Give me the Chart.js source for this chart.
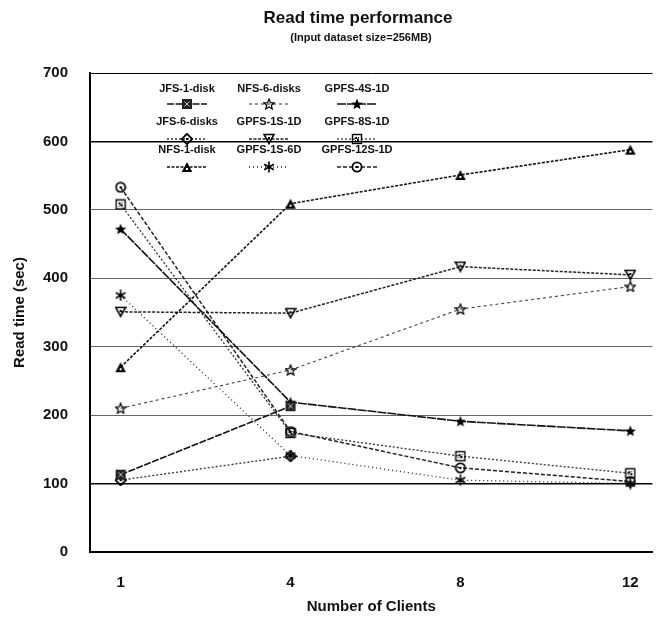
<!DOCTYPE html>
<html>
<head>
<meta charset="utf-8">
<script src="https://cdn.jsdelivr.net/npm/chart.js@4.4.1/dist/chart.umd.min.js"></script>
<style>
  body { margin: 0; background: #fff; }
  #wrap { width: 661px; height: 627px; }
</style>
</head>
<body>
<div id="wrap"><canvas id="chart" width="661" height="627"></canvas></div>
<script>
// x categories and y ticks
const clients = ['1', '4', '8', '12'];
const yTicks = [0, 100, 200, 300, 400, 500, 600, 700];

// read times (sec) per series, one value per client count
const jfs1disk = [113, 213, null, null];
const jfs6disks = [105, 140, null, null];
const nfs1disk = [270, 509, 551, 588];
const nfs6disks = [210, 266, 355, 388];
const gpfs1s1d = [351, 349, 417, 405];
const gpfs1s6d = [375, 141, 105, 100];
const gpfs4s1d = [472, 219, 191, 177];
const gpfs8s1d = [508, 174, 140, 115];
const gpfs12s1d = [533, 176, 123, 103];

const FONT = '"Liberation Sans", Arial, sans-serif';

function starPath(g, cx, cy, ro, ri) {
    g.beginPath();
    for (let i = 0; i < 10; i++) {
        const r = i % 2 ? ri : ro;
        const a = -Math.PI / 2 + i * Math.PI / 5;
        const x = cx + r * Math.cos(a), y = cy + r * Math.sin(a);
        i ? g.lineTo(x, y) : g.moveTo(x, y);
    }
    g.closePath();
}

// small canvases used as point styles
function marker(kind) {
    const c = document.createElement('canvas');
    c.width = 12; c.height = 12;
    const g = c.getContext('2d');
    g.strokeStyle = '#000';
    g.fillStyle = '#000';
    g.lineWidth = 1.4;
    switch (kind) {
        case 'boxX':
            g.fillStyle = '#222';
            g.fillRect(1, 1, 10, 10);
            g.strokeStyle = '#bbb';
            g.lineWidth = 1;
            g.beginPath();
            g.moveTo(3.5, 3.5); g.lineTo(8.5, 8.5);
            g.moveTo(8.5, 3.5); g.lineTo(3.5, 8.5);
            g.stroke();
            break;
        case 'boxDot':
            g.strokeRect(1.5, 1.5, 9, 9);
            g.fillRect(4, 4, 2, 2); g.fillRect(6, 6, 2, 2);
            g.fillRect(4, 7, 1, 1); g.fillRect(7, 4, 1, 1);
            break;
        case 'starOpen':
            starPath(g, 6, 6.5, 5.5, 2.4);
            g.lineWidth = 1.2;
            g.stroke();
            break;
        case 'starFill':
            starPath(g, 6, 6.5, 6, 2.6);
            g.fill();
            break;
        case 'diamond':
            g.beginPath();
            g.moveTo(6, 0.8); g.lineTo(11.2, 6); g.lineTo(6, 11.2); g.lineTo(0.8, 6);
            g.closePath();
            g.lineWidth = 1.8;
            g.stroke();
            g.fillRect(5, 5, 2, 2);
            break;
        case 'triDown':
            g.beginPath();
            g.moveTo(1, 1.5); g.lineTo(11, 1.5); g.lineTo(6, 10.5);
            g.closePath();
            g.lineWidth = 1.6;
            g.stroke();
            g.fillRect(5, 4, 2, 2);
            break;
        case 'triUp':
            g.beginPath();
            g.moveTo(6, 1); g.lineTo(11.3, 11); g.lineTo(0.7, 11);
            g.closePath();
            g.fill();
            g.fillStyle = '#fff';
            g.fillRect(5, 7, 2, 2);
            break;
        case 'aster':
            g.lineWidth = 1.6;
            g.beginPath();
            g.moveTo(6, 0.5); g.lineTo(6, 11.5);
            g.moveTo(1.2, 3.2); g.lineTo(10.8, 8.8);
            g.moveTo(10.8, 3.2); g.lineTo(1.2, 8.8);
            g.stroke();
            break;
        case 'circDot':
            g.beginPath();
            g.arc(6, 6, 4.6, 0, Math.PI * 2);
            g.lineWidth = 1.8;
            g.stroke();
            g.fillRect(5, 5, 2, 2);
            break;
    }
    return c;
}

function series(label, values, kind, dash, width, color) {
    return {
        label: label,
        data: values.map((v, i) => ({ x: i, y: v })),
        borderColor: color,
        borderWidth: width,
        borderDash: dash,
        pointStyle: marker(kind),
        pointRadius: 6,
        pointHoverRadius: 6,
        fill: false,
        tension: 0,
        spanGaps: false
    };
}

const datasets = [
    series('JFS-1-disk', jfs1disk, 'boxX', [7, 1.5], 1.6, '#111'),
    series('JFS-6-disks', jfs6disks, 'diamond', [2, 2], 1.3, '#333'),
    series('NFS-1-disk', nfs1disk, 'triUp', [3, 1.5], 1.6, '#111'),
    series('NFS-6-disks', nfs6disks, 'starOpen', [3, 3], 1.1, '#444'),
    series('GPFS-1S-1D', gpfs1s1d, 'triDown', [3, 1.5], 1.5, '#222'),
    series('GPFS-1S-6D', gpfs1s6d, 'aster', [1, 3], 1.3, '#222'),
    series('GPFS-4S-1D', gpfs4s1d, 'starFill', [9, 1], 1.6, '#111'),
    series('GPFS-8S-1D', gpfs8s1d, 'boxDot', [2, 2], 1.3, '#333'),
    series('GPFS-12S-1D', gpfs12s1d, 'circDot', [4, 2], 1.5, '#222')
];

// header text drawn over the plot
const titlePlugin = {
    id: 'titles',
    afterDraw(chart) {
        const ctx = chart.ctx;
        ctx.save();
        ctx.fillStyle = '#111';
        ctx.textAlign = 'center';
        ctx.textBaseline = 'middle';
        ctx.font = 'bold 17px ' + FONT;
        ctx.fillText('Read time performance', 358, 18);
        ctx.font = 'bold 11px ' + FONT;
        ctx.fillText('(Input dataset size=256MB)', 361, 38);
        ctx.restore();
    }
};

// 3x3 legend: label on top, line sample with marker below
const legendCols = [187, 269, 357];
const legendLabelY = [89, 122, 150];
const legendSampleY = [104, 139, 167];

const legendPlugin = {
    id: 'gridLegend',
    afterDraw(chart) {
        const ctx = chart.ctx;
        ctx.save();
        chart.data.datasets.forEach((ds, i) => {
            const cx = legendCols[Math.floor(i / 3)];
            const row = i % 3;
            ctx.fillStyle = '#111';
            ctx.font = 'bold 11px ' + FONT;
            ctx.textAlign = 'center';
            ctx.textBaseline = 'middle';
            ctx.fillText(ds.label, cx, legendLabelY[row]);
            const sy = legendSampleY[row];
            ctx.strokeStyle = ds.borderColor;
            ctx.lineWidth = ds.borderWidth;
            ctx.setLineDash(ds.borderDash);
            ctx.beginPath();
            ctx.moveTo(cx - 20, sy);
            ctx.lineTo(cx + 20, sy);
            ctx.stroke();
            ctx.setLineDash([]);
            ctx.drawImage(ds.pointStyle, cx - 6, sy - 6);
        });
        ctx.restore();
    }
};

new Chart(document.getElementById('chart'), {
    type: 'line',
    data: { datasets: datasets },
    plugins: [titlePlugin, legendPlugin],
    options: {
        responsive: false,
        animation: false,
        layout: { padding: { top: 73, right: 6, left: 0, bottom: 0 } },
        plugins: {
            legend: { display: false },
            title: { display: false },
            tooltip: { enabled: false }
        },
        scales: {
            x: {
                type: 'linear',
                min: -0.18,
                max: 3.13,
                afterFit(axis) { axis.height = 75; },
                afterBuildTicks(axis) {
                    axis.ticks = clients.map((c, i) => ({ value: i }));
                },
                grid: { display: false, drawTicks: false },
                border: { display: true, color: '#000', width: 2 },
                ticks: {
                    padding: 22,
                    color: '#111',
                    font: { family: FONT, size: 15, weight: 'bold' },
                    callback: v => clients[v]
                },
                title: {
                    display: true,
                    text: 'Number of Clients',
                    color: '#111',
                    font: { family: FONT, size: 15, weight: 'bold' },
                    padding: { top: 0, bottom: 11 }
                }
            },
            y: {
                min: 0,
                max: 700,
                afterFit(axis) { axis.width = 90; },
                afterBuildTicks(axis) {
                    axis.ticks = yTicks.map(v => ({ value: v }));
                },
                grid: {
                    drawTicks: false,
                    color: c => (c.tick && (c.tick.value === 100 || c.tick.value === 600 || c.tick.value === 700)) ? '#000' : '#666',
                    lineWidth: c => (c.tick && (c.tick.value === 100 || c.tick.value === 600)) ? 1.6 : 1
                },
                border: { display: true, color: '#000', width: 2 },
                ticks: {
                    padding: 22,
                    color: '#111',
                    font: { family: FONT, size: 15, weight: 'bold' }
                },
                title: {
                    display: true,
                    text: 'Read time (sec)',
                    color: '#111',
                    font: { family: FONT, size: 15, weight: 'bold' },
                    padding: { top: 11, bottom: 0 }
                }
            }
        }
    }
});
</script>
</body>
</html>
